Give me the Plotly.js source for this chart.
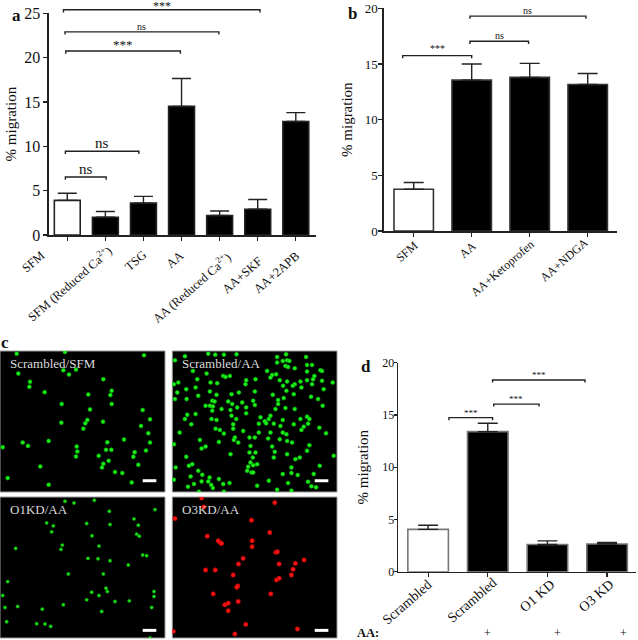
<!DOCTYPE html>
<html>
<head>
<meta charset="utf-8">
<script src="https://cdn.plot.ly/plotly-3.0.1.min.js"></script>
<style>
  html, body { margin: 0; padding: 0; background: #fff; }
</style>
</head>
<body>
<div id="chart" style="width:638px;height:640px;"></div>
<script>
// panel a
const labelsA = ['SFM', 'SFM (Reduced Ca<sup>2+</sup>)', 'TSG', 'AA', 'AA (Reduced Ca<sup>2+</sup>)', 'AA+SKF', 'AA+2APB'];
const valuesA = [3.9, 2.0, 3.6, 14.5, 2.2, 2.9, 12.8];
const errorsA = [0.8, 0.65, 0.75, 3.15, 0.5, 1.1, 1.0];
const colorsA = ['white', 'black', 'black', 'black', 'black', 'black', 'black'];
const bracketsA = [
    { from: -0.1, to: 5.06, level: 25.4, text: '***', size: 12, shift: -5 },
    { from: -0.06, to: 3.98, level: 22.9, text: 'ns', size: 10, shift: -2 },
    { from: -0.04, to: 2.97, level: 20.75, text: '***', size: 13, shift: -3 },
    { from: -0.05, to: 1.88, level: 9.44, text: 'ns', size: 15, shift: -2 },
    { from: -0.05, to: 1.02, level: 6.54, text: 'ns', size: 15, shift: -2 }
];

// panel b
const labelsB = ['SFM', 'AA', 'AA+Ketoprofen', 'AA+NDGA'];
const valuesB = [3.75, 13.55, 13.8, 13.15];
const errorsB = [0.6, 1.45, 1.25, 1.0];
const colorsB = ['white', 'black', 'black', 'black'];
const bracketsB = [
    { from: -0.19, to: 1.0, level: 15.75, text: '***', size: 10, shift: 0 },
    { from: 0.97, to: 1.98, level: 17.04, text: 'ns', size: 10, shift: -2 },
    { from: 0.97, to: 2.97, level: 19.3, text: 'ns', size: 10, shift: -2 }
];

// panel d
const labelsD = ['Scrambled', 'Scrambled', 'O1 KD', 'O3 KD'];
const valuesD = [4.05, 13.4, 2.6, 2.65];
const errorsD = [0.4, 0.8, 0.35, 0.15];
const colorsD = ['white', 'black', 'black', 'black'];
const bracketsD = [
    { from: 0.35, to: 1.08, level: 14.74, text: '***', size: 9, shift: -2 },
    { from: 1.1, to: 1.86, level: 16.04, text: '***', size: 9, shift: -2 },
    { from: 1.08, to: 2.63, level: 18.34, text: '***', size: 9, shift: -2 }
];
const treatmentD = ['', '+', '+', '+'];

// panel c, cell positions
const cellsSfmX = [50,195,432,190,228,207,55,90,88,310,134,265,335,331,185,335,270,428,262,250,256,309,184,450,423,445,68,84,146,8,322,372,450,230,232,228,318,334,296,404,400,438,326,310,306,415,121,345,367,23,146,395];
const cellsSfmY = [8,3,13,58,56,71,68,93,108,85,124,131,120,133,160,160,176,178,208,234,218,213,216,206,226,248,276,286,271,290,275,267,276,288,303,318,298,298,316,305,319,300,331,340,351,343,348,365,368,383,403,396];

const cellsAaX = [38,8,108,129,155,193,62,103,153,160,173,222,220,75,18,5,115,135,70,42,15,8,43,78,113,133,178,200,120,127,113,122,168,180,148,100,175,70,45,120,38,118,133,178,192,222,222,195,210,
    315,342,315,332,345,352,340,348,402,405,420,368,285,405,445,450,312,300,295,323,250,345,427,423,405,385,420,368,362,333,450,388,248,343,365,417,302,438,455,482,335,318,318,243,248,452,340,310,368,295,290,278,332,385,405,412,265,
    57,130,143,183,183,213,22,155,188,185,83,140,5,198,88,100,232,235,232,175,42,60,50,10,235,228,225,78,90,5,55,140,88,108,112,65,117,122,172,153,47,238,80,155,
    260,282,305,325,365,408,395,388,442,260,295,332,343,462,288,248,323,345,360,300,412,405,250,308,345,305,370,383,485,242,255,243,443,358,358,332,377,425,243,348,290,408,418,432,315,358,255];
const cellsAaY = [16,28,8,11,11,10,60,68,75,78,75,88,100,85,95,100,95,97,110,115,125,145,145,135,122,132,130,125,150,152,165,167,152,160,175,165,178,190,192,180,205,205,208,195,205,188,170,170,155,
    18,10,35,30,28,30,45,48,18,42,42,52,60,62,58,60,70,72,80,88,85,92,75,85,88,92,100,100,105,105,90,110,122,120,130,138,132,145,115,95,142,148,160,150,163,165,172,175,175,195,205,212,208,205,198,205,200,
    221,234,238,221,234,241,246,249,261,268,268,274,281,276,294,288,261,286,306,311,319,341,346,351,336,349,361,361,373,388,378,386,393,393,381,401,404,413,398,401,409,366,424,424,
    219,218,219,226,221,219,228,238,231,246,246,246,251,248,264,261,266,271,276,288,284,301,306,304,311,321,326,321,316,321,341,344,346,351,368,371,374,371,366,398,391,394,408,411,418,421,406];

const cellsO1X = [195,222,283,328,465,140,160,155,260,330,402,415,410,418,276,187,183,297,47,264,294,330,428,440,385,205,310,23,275,318,322,297,260,345,388,462,462,8,455,15,127,53,190,305,20,110,135,152,450];
const cellsO1Y = [13,18,10,43,38,78,87,105,80,83,66,85,112,118,117,145,158,148,155,185,186,192,175,177,205,232,232,255,287,275,285,297,310,315,313,285,300,297,333,333,338,330,325,345,376,382,383,390,425];

const cellsO3X = [88,95,8,308,238,293,105,143,138,148,240,240,311,316,213,199,321,370,396,363,358,100,129,183,313,321,197,194,296,123,198,168,158,168,221,376,188,3];
const cellsO3Y = [3,30,65,17,70,107,118,137,132,140,132,150,167,165,185,202,202,200,190,218,235,220,220,235,250,245,268,272,292,292,315,320,325,343,384,398,413,405];

const fieldNames = ['Scrambled/SFM', 'Scrambled/AA', 'O1KD/AA', 'O3KD/AA'];

const W = 638, H = 640;
const TEXT = '#111';
const SERIF = '"Liberation Serif", "Times New Roman", serif';

function px(x) { return x / W; }
function py(y) { return 1 - y / H; }

const traces = [];
const annotations = [];
const shapes = [];
const layout = {
    width: W,
    height: H,
    margin: { l: 0, r: 0, t: 0, b: 0 },
    paper_bgcolor: 'white',
    plot_bgcolor: 'rgba(0,0,0,0)',
    showlegend: false,
    font: { family: SERIF, color: TEXT },
    annotations: annotations,
    shapes: shapes
};

function addBarPanel(id, opts) {
    const xa = 'xaxis' + id, ya = 'yaxis' + id;
    const xref = 'x' + id, yref = 'y' + id;
    layout[xa] = {
        domain: [px(opts.left), px(opts.right)],
        anchor: yref,
        range: opts.xRange,
        tickvals: opts.labels.map((_, i) => i),
        showticklabels: false,
        ticks: 'outside',
        ticklen: 4,
        tickwidth: 1.2,
        tickcolor: '#222',
        showline: true,
        linecolor: '#222',
        linewidth: 1.6,
        showgrid: false,
        zeroline: false
    };
    layout[ya] = {
        domain: [py(opts.bottom), py(opts.top)],
        anchor: xref,
        range: [0, opts.yMax],
        dtick: 5,
        ticks: 'outside',
        ticklen: opts.tickLen,
        ticklabelstandoff: opts.labelStandoff,
        tickwidth: 1.4,
        tickcolor: '#222',
        showline: true,
        linecolor: '#222',
        linewidth: 1.6,
        showgrid: false,
        zeroline: false,
        tickfont: { family: SERIF, size: opts.tickSize, color: TEXT },
        title: { text: '% migration', font: { family: SERIF, size: 15, color: TEXT }, standoff: opts.standoff }
    };

    traces.push({
        type: 'bar',
        xaxis: xref,
        yaxis: yref,
        x: opts.labels.map((_, i) => i),
        y: opts.values,
        width: 0.68,
        marker: { color: opts.colors, line: { color: opts.outline, width: 1.6 } },
        error_y: { type: 'data', symmetric: false, array: opts.errors, arrayminus: opts.errors.map(() => 0), color: '#222', thickness: 1.4, width: opts.capWidth }
    });

    // brackets may sit above the axis top, so they go on a hidden taller axis
    const overId = 1 + Number(id || 1) + 7;
    const overRef = 'y' + overId;
    const panelTop = opts.panelTop || 0;
    layout['yaxis' + overId] = {
        domain: [py(opts.bottom), py(panelTop)],
        anchor: xref,
        range: [0, opts.yMax * (opts.bottom - panelTop) / (opts.bottom - opts.top)],
        visible: false
    };

    opts.brackets.forEach(b => {
        const drop = opts.yMax * 0.012;
        traces.push({
            type: 'scatter',
            mode: 'lines',
            xaxis: xref,
            yaxis: overRef,
            x: [b.from, b.from, b.to, b.to],
            y: [b.level - drop, b.level, b.level, b.level - drop],
            line: { color: '#222', width: 1.4 },
            hoverinfo: 'skip'
        });
        annotations.push({
            xref: xref,
            yref: overRef,
            x: (b.from + b.to) / 2,
            y: b.level,
            text: b.text,
            showarrow: false,
            yanchor: 'bottom',
            yshift: b.shift,
            font: { family: SERIF, size: b.size, color: TEXT }
        });
    });

    // rotated category labels, placed one by one like the original figure
    opts.labels.forEach((label, i) => {
        annotations.push({
            xref: 'paper',
            yref: 'paper',
            x: px(opts.labelRight[i] + 5),
            y: py(opts.labelTop[i] - 6),
            text: label,
            textangle: -41,
            showarrow: false,
            xanchor: 'right',
            yanchor: 'top',
            font: { family: SERIF, size: opts.labelSize, color: TEXT }
        });
    });
}

function addField(id, box, name, cellsX, cellsY, color, halo, cellSize, barY) {
    const xref = 'x' + id, yref = 'y' + id;
    const hidden = { showticklabels: false, ticks: '', showgrid: false, zeroline: false, showline: false };
    layout['xaxis' + id] = Object.assign({ domain: [px(box[0]), px(box[2])], anchor: yref, range: [0, 495] }, hidden);
    layout['yaxis' + id] = Object.assign({ domain: [py(box[3]), py(box[1])], anchor: xref, range: [425, 0] }, hidden);
    shapes.push({
        type: 'rect', layer: 'below',
        xref: xref + ' domain', yref: yref + ' domain',
        x0: 0, x1: 1, y0: 0, y1: 1,
        fillcolor: 'black', line: { color: '#999', width: 1 }
    });
    traces.push({
        type: 'scatter',
        mode: 'markers',
        xaxis: xref,
        yaxis: yref,
        x: cellsX,
        y: cellsY,
        marker: { color: color, size: cellSize, line: { color: halo, width: 1 } },
        hoverinfo: 'skip'
    });
    // scale bar
    traces.push({
        type: 'scatter',
        mode: 'lines',
        xaxis: xref,
        yaxis: yref,
        x: [428, 469],
        y: [barY, barY],
        line: { color: 'white', width: 3 },
        hoverinfo: 'skip'
    });
    annotations.push({
        xref: 'paper',
        yref: 'paper',
        x: px(box[0] + 8),
        y: py(box[1] + 12),
        text: name,
        showarrow: false,
        xanchor: 'left',
        yanchor: 'middle',
        font: { family: SERIF, size: 13, color: '#dcdcdc' }
    });
}

function addPaperText(text, x, y, size, bold, anchor) {
    annotations.push({
        xref: 'paper',
        yref: 'paper',
        x: px(x),
        y: py(y),
        text: bold ? '<b>' + text + '</b>' : text,
        showarrow: false,
        xanchor: anchor || 'center',
        yanchor: 'middle',
        font: { family: SERIF, size: size, color: TEXT }
    });
}

addBarPanel('', {
    labels: labelsA, values: valuesA, errors: errorsA, colors: colorsA, brackets: bracketsA,
    left: 49, right: 316, top: 13.3, bottom: 235, xRange: [-0.48, 6.53], yMax: 25,
    tickSize: 16, labelSize: 12.5, standoff: 4, tickLen: 4, labelStandoff: 0, capWidth: 9.5, outline: '#222',
    labelRight: [45, 113, 147, 184, 232, 263, 301],
    labelTop: [252, 245, 251, 252, 252, 257, 252]
});
addBarPanel('2', {
    labels: labelsB, values: valuesB, errors: errorsB, colors: colorsB, brackets: bracketsB,
    left: 384, right: 617, top: 8.3, bottom: 231, xRange: [-0.512, 3.505], yMax: 20,
    tickSize: 13, labelSize: 12, standoff: 8, tickLen: 4, labelStandoff: -2, capWidth: 10, outline: '#333',
    labelRight: [418, 477, 535, 589],
    labelTop: [242, 242, 240, 239]
});
addBarPanel('3', {
    labels: labelsD, values: valuesD, errors: errorsD, colors: colorsD, brackets: bracketsD,
    left: 398.3, right: 636, top: 362.7, bottom: 571.7, panelTop: 340, xRange: [-0.5, 3.485], yMax: 20,
    tickSize: 12, labelSize: 14, standoff: 10, tickLen: 3, labelStandoff: -3, capWidth: 10, outline: '#777',
    labelRight: [432, 497, 556, 615],
    labelTop: [580, 578, 580, 580]
});

addField('4', [0, 351, 165, 492], fieldNames[0], cellsSfmX, cellsSfmY, '#1ef01e', 'rgba(0,170,0,0.6)', 4, 391);
addField('5', [172.3, 351, 337, 492], fieldNames[1], cellsAaX, cellsAaY, '#1ef01e', 'rgba(0,170,0,0.6)', 4, 391);
addField('6', [0, 497, 165, 638], fieldNames[2], cellsO1X, cellsO1Y, '#1ee01e', 'rgba(0,140,0,0.5)', 3.4, 402);
addField('7', [172.3, 497, 337, 638], fieldNames[3], cellsO3X, cellsO3Y, '#f81414', 'rgba(180,0,0,0.6)', 4.4, 402);

addPaperText('a', 16, 15, 17, true);
addPaperText('b', 353, 14, 17, true);
addPaperText('c', 5, 342, 17, true);
addPaperText('d', 366, 366, 17, true);

addPaperText('AA:', 355, 632.5, 12.5, true, 'left');
[487, 557, 623].forEach((x, i) => addPaperText(treatmentD[i + 1], x, 632.5, 12, false));

Plotly.newPlot('chart', traces, layout, { displayModeBar: false, staticPlot: true });
</script>
</body>
</html>
